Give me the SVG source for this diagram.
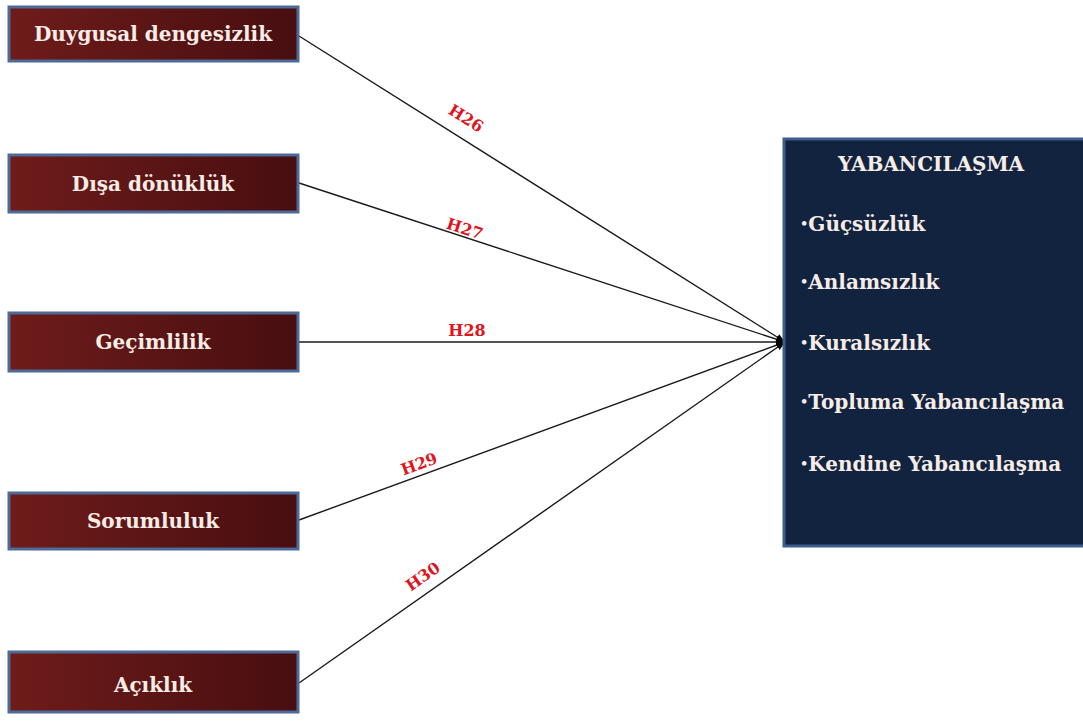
<svg xmlns="http://www.w3.org/2000/svg" width="1083" height="722" viewBox="0 0 1083 722">
<defs>
<linearGradient id="red" x1="0" y1="0" x2="1" y2="0">
<stop offset="0" stop-color="#6e1c1a"/>
<stop offset="1" stop-color="#480e10"/>
</linearGradient>
<marker id="arr" viewBox="0 0 10 10" refX="10" refY="5" markerWidth="9" markerHeight="9" orient="auto" markerUnits="userSpaceOnUse">
<path d="M0,1 L10,5 L0,9 z" fill="#000"/>
</marker>
<style>
.box{fill:url(#red);stroke:#4d6b96;stroke-width:3}
.big{fill:#11233f;stroke:#3e5d8c;stroke-width:3}
.t{font-family:"DejaVu Serif","Liberation Serif",serif;font-weight:bold;font-size:20px;fill:#f7ece6}
.b{font-size:13px}
.lbl{font-family:"DejaVu Serif","Liberation Serif",serif;font-weight:bold;font-size:16px;fill:#e0141c}
.c{stroke:#1a1a1a;stroke-width:1.4;fill:none;marker-end:url(#arr)}
</style>
</defs>
<rect width="1083" height="722" fill="#fff"/>
<g id="connectors">
<line class="c" x1="299" y1="36" x2="785" y2="342"/>
<line class="c" x1="299" y1="183" x2="785" y2="342"/>
<line class="c" x1="299" y1="342" x2="785" y2="342"/>
<line class="c" x1="299" y1="520" x2="785" y2="342"/>
<line class="c" x1="299" y1="683" x2="785" y2="342"/>
<text class="lbl" transform="translate(463,123) rotate(32)" text-anchor="middle">H26</text>
<text class="lbl" transform="translate(463,234) rotate(18)" text-anchor="middle">H27</text>
<text class="lbl" x="467" y="336" text-anchor="middle">H28</text>
<text class="lbl" transform="translate(421,469) rotate(-20)" text-anchor="middle">H29</text>
<text class="lbl" transform="translate(426,581) rotate(-35)" text-anchor="middle">H30</text>
</g>
<g id="n1"><rect class="box" x="9" y="7" width="289" height="54"/><text class="t" x="153" y="41" text-anchor="middle">Duygusal dengesizlik</text></g>
<g id="n2"><rect class="box" x="9" y="155" width="289" height="57"/><text class="t" x="153" y="191" text-anchor="middle">Dışa dönüklük</text></g>
<g id="n3"><rect class="box" x="9" y="313" width="289" height="58"/><text class="t" x="153" y="349" text-anchor="middle">Geçimlilik</text></g>
<g id="n4"><rect class="box" x="9" y="493" width="289" height="56"/><text class="t" x="153" y="528" text-anchor="middle">Sorumluluk</text></g>
<g id="n5"><rect class="box" x="9" y="652" width="289" height="60"/><text class="t" x="153" y="692" text-anchor="middle">Açıklık</text></g>
<g id="n6"><rect class="big" x="784" y="139" width="302" height="407"/>
<text class="t" x="931" y="171" text-anchor="middle">YABANCILAŞMA</text>
<text class="t" x="800" y="231"><tspan class="b" dy="-3">•</tspan><tspan dy="3">Güçsüzlük</tspan></text>
<text class="t" x="800" y="289"><tspan class="b" dy="-3">•</tspan><tspan dy="3">Anlamsızlık</tspan></text>
<text class="t" x="800" y="350"><tspan class="b" dy="-3">•</tspan><tspan dy="3">Kuralsızlık</tspan></text>
<text class="t" x="800" y="409"><tspan class="b" dy="-3">•</tspan><tspan dy="3">Topluma Yabancılaşma</tspan></text>
<text class="t" x="800" y="471"><tspan class="b" dy="-3">•</tspan><tspan dy="3">Kendine Yabancılaşma</tspan></text>
</g>
</svg>
